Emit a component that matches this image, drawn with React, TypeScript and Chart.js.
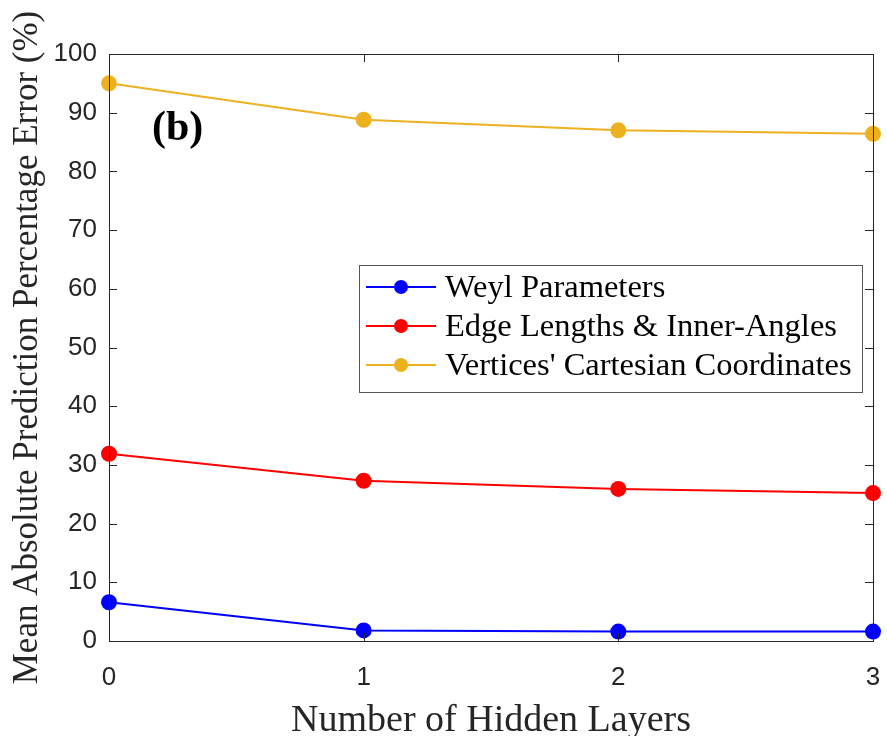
import React, { useEffect, useRef } from "react";
import { Chart, registerables } from "chart.js";

Chart.register(...registerables);

const hiddenLayers = [0, 1, 2, 3];
const weylParams = [6.6, 1.8, 1.6, 1.6];
const edgeLengths = [31.9, 27.3, 25.9, 25.2];
const vertexCoords = [95.0, 88.8, 87.0, 86.4];
const seriesLabels = [
  "Weyl Parameters",
  "Edge Lengths & Inner-Angles",
  "Vertices' Cartesian Coordinates",
];
const seriesColors = ["#0000FF", "#FF0000", "#EDB120"];
const panelLabel = "(b)";
const xTitle = "Number of Hidden Layers";
const yTitle = "Mean Absolute Prediction Percentage Error (%)";

const AXIS = "#262626";
const SERIF = "'Liberation Serif', 'Times New Roman', serif";
const SANS = "'Liberation Sans', Arial, sans-serif";

const boxPlugin = {
  id: "boxPlugin",
  afterDraw(chart: any) {
    const { ctx, chartArea } = chart;
    const { left, right, top, bottom } = chartArea;
    const xs = chart.scales.x;
    const ys = chart.scales.y;
    ctx.save();
    ctx.strokeStyle = AXIS;
    ctx.lineWidth = 1;
    ctx.strokeRect(Math.round(left) + 0.5, Math.round(top) + 0.5, Math.round(right - left), Math.round(bottom - top));
    const tl = 8;
    ctx.beginPath();
    ys.ticks.forEach((t: any) => {
      const y = Math.round(ys.getPixelForValue(t.value)) + 0.5;
      ctx.moveTo(left, y);
      ctx.lineTo(left + tl, y);
      ctx.moveTo(right, y);
      ctx.lineTo(right - tl, y);
    });
    xs.ticks.forEach((t: any) => {
      const x = Math.round(xs.getPixelForValue(t.value)) + 0.5;
      ctx.moveTo(x, bottom);
      ctx.lineTo(x, bottom - tl);
      ctx.moveTo(x, top);
      ctx.lineTo(x, top + tl);
    });
    ctx.stroke();

    ctx.fillStyle = "#000";
    ctx.font = `bold 42px ${SERIF}`;
    ctx.textBaseline = "alphabetic";
    ctx.textAlign = "left";
    ctx.fillText(panelLabel, 152, 140);

    const lx0 = 359, ly0 = 265, lx1 = 862, ly1 = 392;
    ctx.fillStyle = "#fff";
    ctx.fillRect(lx0, ly0, lx1 - lx0, ly1 - ly0);
    ctx.strokeStyle = "#555";
    ctx.lineWidth = 1;
    ctx.strokeRect(lx0 + 0.5, ly0 + 0.5, lx1 - lx0, ly1 - ly0);
    const rows = [287, 326, 365];
    chart.data.datasets.forEach((ds: any, i: number) => {
      const y = rows[i];
      ctx.strokeStyle = ds.borderColor;
      ctx.lineWidth = 2;
      ctx.beginPath();
      ctx.moveTo(366, y);
      ctx.lineTo(436, y);
      ctx.stroke();
      ctx.fillStyle = ds.backgroundColor;
      ctx.beginPath();
      ctx.arc(401, y, 7, 0, Math.PI * 2);
      ctx.fill();
      ctx.fillStyle = "#000";
      ctx.font = `32.5px ${SERIF}`;
      ctx.textBaseline = "middle";
      ctx.fillText(ds.label, 445, y + 1);
    });
    ctx.restore();
  },
};

export default function App() {
  const ref = useRef<HTMLCanvasElement>(null);
  useEffect(() => {
    document.body.style.margin = "0";
    const series = [weylParams, edgeLengths, vertexCoords];
    const chart = new Chart(ref.current!, {
      type: "line",
      data: {
        datasets: series.map((vals, i) => ({
          label: seriesLabels[i],
          data: hiddenLayers.map((x, j) => ({ x, y: vals[j] })),
          borderColor: seriesColors[i],
          backgroundColor: seriesColors[i],
          pointBackgroundColor: seriesColors[i],
          pointBorderColor: seriesColors[i],
          pointRadius: 8,
          pointBorderWidth: 0,
          borderWidth: 2,
          tension: 0,
          clip: false as any,
        })),
      },
      options: {
        animation: false,
        responsive: false,
        maintainAspectRatio: false,
        layout: { padding: { top: 54, right: 14, left: 0, bottom: 0 } },
        plugins: {
          legend: { display: false },
          tooltip: { enabled: false },
        },
        scales: {
          x: {
            type: "linear",
            min: 0,
            max: 3,
            offset: false,
            grid: { display: false, drawTicks: false },
            border: { display: false },
            ticks: {
              stepSize: 1,
              padding: 21,
              color: AXIS,
              font: { family: SANS, size: 26 },
              maxRotation: 0,
            },
            title: {
              display: true,
              text: xTitle,
              color: AXIS,
              font: { family: SERIF, size: 38, lineHeight: 0.8 },
              padding: { top: 0, bottom: 0 },
            },
            afterFit(scale: any) {
              scale.height = 95;
              scale.paddingLeft = 0;
              scale.paddingRight = 0;
            },
          },
          y: {
            type: "linear",
            min: 0,
            max: 100,
            grid: { display: false, drawTicks: false },
            border: { display: false },
            ticks: {
              stepSize: 10,
              padding: 12,
              color: AXIS,
              font: { family: SANS, size: 26 },
            },
            title: {
              display: true,
              text: yTitle,
              color: AXIS,
              font: { family: SERIF, size: 35, lineHeight: 1.2 },
              padding: { top: 7, bottom: 0 },
            },
            afterFit(scale: any) {
              scale.width = 109;
              scale.paddingTop = 0;
              scale.paddingBottom = 0;
            },
          },
        },
      },
      plugins: [boxPlugin],
    });
    return () => chart.destroy();
  }, []);
  return (
    <div style={{ width: 887, height: 736, background: "#fff" }}>
      <canvas ref={ref} width={887} height={736} style={{ display: "block" }} />
    </div>
  );
}
